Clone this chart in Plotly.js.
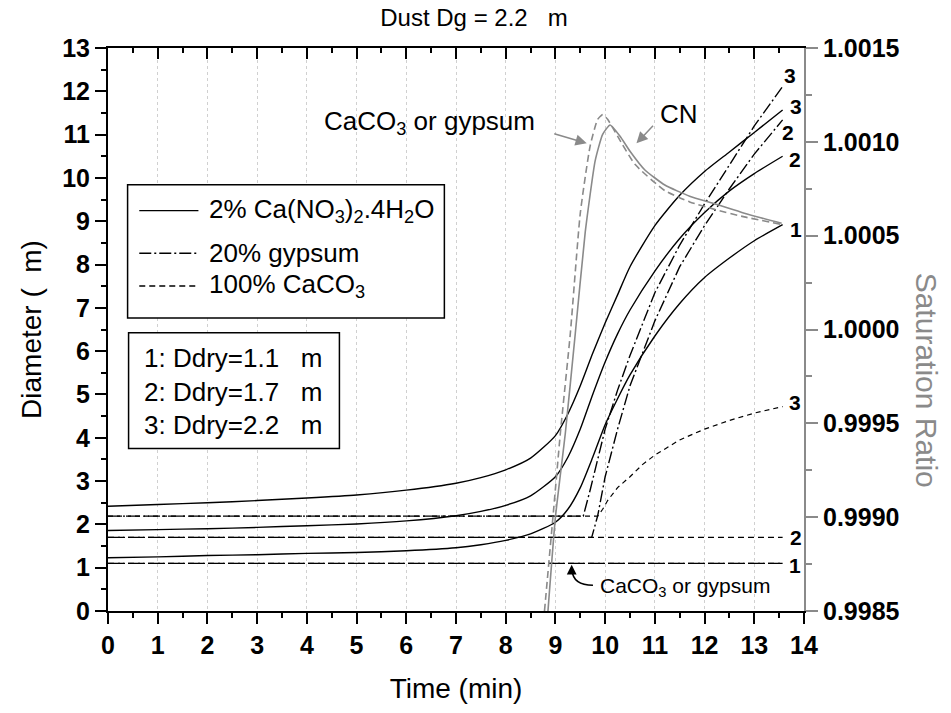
<!DOCTYPE html>
<html>
<head>
<meta charset="utf-8">
<script src="https://cdn.plot.ly/plotly-3.0.1.min.js"></script>
<style>html,body{margin:0;padding:0;background:#fff}#chart{width:951px;height:713px}</style>
</head>
<body>
<div id="chart"></div>
<script>
// ---- Data (time in min, diameter in um, saturation ratio) ----
const tGrowth = [0, 1, 2, 3, 4, 5, 6, 7, 7.5, 8, 8.5, 9, 9.25, 9.5, 9.75, 10, 10.25, 10.5, 11, 11.5, 12, 12.5, 13, 13.57];
const nitrate1 = [1.23, 1.25, 1.28, 1.30, 1.33, 1.35, 1.39, 1.46, 1.53, 1.63, 1.78, 2.05, 2.35, 2.85, 3.55, 4.3, 4.9, 5.45, 6.35, 7.1, 7.7, 8.15, 8.55, 8.92];
const nitrate2 = [1.86, 1.88, 1.90, 1.93, 1.97, 2.01, 2.08, 2.20, 2.30, 2.44, 2.66, 3.1, 3.55, 4.2, 5.0, 5.75, 6.4, 6.95, 7.85, 8.6, 9.2, 9.7, 10.1, 10.5];
const nitrate3 = [2.42, 2.46, 2.50, 2.55, 2.61, 2.68, 2.79, 2.95, 3.08, 3.26, 3.53, 4.05, 4.55, 5.2, 5.95, 6.65, 7.3, 7.95, 8.9, 9.6, 10.15, 10.6, 11.05, 11.57];

const tGyp1 = [0, 13.57];
const gypsum1 = [1.1, 1.1];
const tGyp2 = [0, 9.73, 9.85, 10, 10.25, 10.5, 11, 11.5, 12, 12.5, 13, 13.57];
const gypsum2 = [1.7, 1.7, 2.2, 3.1, 4.2, 5.2, 6.7, 7.95, 8.9, 9.75, 10.55, 11.34];
const tGyp3 = [0, 9.56, 9.7, 9.85, 10, 10.25, 10.5, 11, 11.5, 12, 12.5, 13, 13.57];
const gypsum3 = [2.19, 2.19, 2.8, 3.5, 4.2, 5.1, 5.9, 7.35, 8.45, 9.4, 10.3, 11.2, 12.11];

const tCal1 = [0, 13.57];
const calcite1 = [1.1, 1.1];
const tCal2 = [0, 13.57];
const calcite2 = [1.7, 1.7];
const tCal3 = [0, 9.85, 9.95, 10.05, 10.25, 10.5, 10.75, 11, 11.5, 12, 12.5, 13, 13.57];
const calcite3 = [2.19, 2.19, 2.35, 2.55, 2.85, 3.1, 3.38, 3.6, 3.95, 4.2, 4.4, 4.57, 4.72];

const tSatCN = [8.85, 9.0, 9.2, 9.4, 9.6, 9.8, 9.95, 10.1, 10.3, 10.5, 10.8, 11.2, 11.7, 12.2, 12.8, 13.55];
const satCN = [0.9985, 0.9990, 0.99945, 0.99998, 1.00052, 1.00090, 1.00104, 1.00109, 1.00103, 1.00095, 1.00085, 1.00077, 1.00071, 1.00067, 1.00062, 1.000566];
const tSatCaCO3 = [8.78, 8.95, 9.1, 9.3, 9.5, 9.7, 9.85, 9.95, 10.05, 10.25, 10.6, 11.2, 11.7, 12.2, 12.8, 13.55];
const satCaCO3 = [0.9985, 0.9990, 0.99945, 0.99998, 1.00062, 1.00098, 1.00112, 1.001145, 1.00112, 1.00103, 1.00088, 1.00074, 1.00068, 1.00064, 1.00060, 1.00056];

const xTicks = [0,1,2,3,4,5,6,7,8,9,10,11,12,13,14];
const legendNames = ['2% Ca(NO<sub>3</sub>)<sub>2</sub>.4H<sub>2</sub>O', '20% gypsum', '100% CaCO<sub>3</sub>'];
const sizeLabels = ['1: Ddry=1.1\u00a0\u00a0\u00a0m', '2: Ddry=1.7\u00a0\u00a0\u00a0m', '3: Ddry=2.2\u00a0\u00a0\u00a0m'];

// ---- styles ----
const FONT = 'Arial, "Liberation Sans", sans-serif';
const SOLID = 'solid';
const DASHDOT = '12px,3px,2px,3px';
const DASH = '6px,4px';
const GRAY = '#8a8a8a';

function line(x, y, dash, opts) {
  return Object.assign({
    x: x, y: y, type: 'scatter', mode: 'lines', hoverinfo: 'skip', showlegend: false,
    line: {color: '#000', width: 1.4, dash: dash}
  }, opts || {});
}

const traces = [
  line(tGrowth, nitrate1, SOLID, {line:{color:'#000',width:1.4,shape:'spline',smoothing:0.6}}),
  line(tGrowth, nitrate2, SOLID, {line:{color:'#000',width:1.4,shape:'spline',smoothing:0.6}}),
  line(tGrowth, nitrate3, SOLID, {line:{color:'#000',width:1.4,shape:'spline',smoothing:0.6}}),
  line(tCal1, calcite1, DASH),
  line(tCal2, calcite2, DASH),
  line(tCal3, calcite3, DASH, {line:{color:'#000',width:1.2,dash:'5px,4px'}}),
  line(tGyp1, gypsum1, DASHDOT),
  line(tGyp2, gypsum2, DASHDOT),
  line(tGyp3, gypsum3, DASHDOT),
  line(tSatCaCO3, satCaCO3, DASH, {yaxis:'y2', line:{color:GRAY,width:1.6,dash:'7px,4px',shape:'spline',smoothing:0.5}}),
  line(tSatCN, satCN, SOLID, {yaxis:'y2', line:{color:GRAY,width:1.6,shape:'spline',smoothing:0.5}}),
  // registers the mirrored top axis
  {x:[0], y:[0], xaxis:'x2', type:'scatter', mode:'lines', hoverinfo:'skip', showlegend:false}
];

// curve end labels, anchored to series end points
const endSeries = [
  [tGyp3, gypsum3, '3', 3, 11],
  [tGrowth, nitrate3, '3', 9, 3],
  [tGyp2, gypsum2, '2', 1, -13],
  [tGrowth, nitrate2, '2', 8, -3],
  [tGrowth, nitrate1, '1', 9, -5],
  [tCal3, calcite3, '3', 8, 4],
  [tCal2, calcite2, '2', 9, 0],
  [tCal1, calcite1, '1', 8, -2]
];
const annotations = endSeries.map(s => ({
  x: s[0][s[0].length-1], y: s[1][s[1].length-1], xref:'x', yref:'y',
  text: s[2], showarrow:false, xanchor:'center', yanchor:'middle',
  xshift: s[3] + 4, yshift: s[4],
  font:{family:FONT, size:21, weight:'bold', color:'#000'}
}));

// text annotations and arrows
annotations.push(
  {x:4.30, y:11.27, xref:'x', yref:'y', text:'CaCO<sub>3</sub> or gypsum', showarrow:false,
   xanchor:'left', yanchor:'middle', font:{family:FONT, size:26, color:'#000'}},
  {x:9.63, y:10.80, xref:'x', yref:'y', text:'', showarrow:true, ax:-34, ay:-10,
   arrowcolor:GRAY, arrowwidth:1.5, arrowhead:2, arrowsize:1.5},
  {x:11.06, y:11.48, xref:'x', yref:'y', text:'CN', showarrow:false,
   xanchor:'left', yanchor:'middle', font:{family:FONT, size:26, color:'#000'}},
  {x:10.63, y:10.80, xref:'x', yref:'y', text:'', showarrow:true, ax:18, ay:-19,
   arrowcolor:GRAY, arrowwidth:1.5, arrowhead:2, arrowsize:1.5},
  {x:9.86, y:0.555, xref:'x', yref:'y', text:'CaCO<sub>3</sub> or gypsum', showarrow:false,
   xanchor:'left', yanchor:'middle', font:{family:FONT, size:21, color:'#000'}},
  {x:9.327, y:1.07, xref:'x', yref:'y', text:'', showarrow:true, ax:0, ay:9,
   arrowcolor:'#000', arrowwidth:1.5, arrowhead:2, arrowsize:1.3},
  {x:1.176, y:0.41, xref:'paper', yref:'paper', text:'Saturation Ratio', showarrow:false,
   textangle:90, xanchor:'center', yanchor:'middle', font:{family:FONT, size:30, color:GRAY}}
);

// legend boxes (manual, to match the original sample lengths)
const legY = [9.246, 8.262, 7.506];
const legDash = [SOLID, DASHDOT, DASH];
const shapes = [
  {type:'rect', xref:'x', yref:'y', x0:0.394, x1:6.766, y0:6.766, y1:9.84, line:{color:'#000', width:1.5}, fillcolor:'#fff', layer:'above'},
  {type:'rect', xref:'x', yref:'y', x0:0.414, x1:4.655, y0:3.754, y1:6.426, line:{color:'#000', width:1.5}, fillcolor:'#fff', layer:'above'},
  {type:'path', xref:'x', yref:'y', path:'M 9.755,0.594 Q 9.353,0.594 9.333,0.95', line:{color:'#000', width:1.5}, layer:'above'}
];
legY.forEach((yy, i) => {
  shapes.push({type:'line', xref:'x', yref:'y', x0:0.629, x1:1.819, y0:yy, y1:yy,
    line:{color:'#000', width:1.4, dash:legDash[i]}, layer:'above'});
  annotations.push({x:2.0, y:yy, xref:'x', yref:'y', text:legendNames[i], showarrow:false,
    xanchor:'left', yanchor:'middle', font:{family:FONT, size:26, color:'#000'}});
});
const sizeY = [5.835, 5.062, 4.293];
sizeLabels.forEach((s, i) => {
  annotations.push({x:0.683, y:sizeY[i], xref:'x', yref:'y', text:s, showarrow:false,
    xanchor:'left', yanchor:'middle', font:{family:FONT, size:26, color:'#000'}});
});

const tickFont = {family:FONT, size:25, weight:'bold', color:'#000'};

const layout = {
  width:951, height:713,
  margin:{l:108, r:147, t:48, b:102, pad:0},
  paper_bgcolor:'#fff', plot_bgcolor:'#fff',
  showlegend:false,
  font:{family:FONT, color:'#000'},
  title:{text:'Dust Dg = 2.2\u00a0\u00a0\u00a0m', font:{family:FONT, size:24, color:'#000'},
         xref:'container', x:0.4984, xanchor:'center', yref:'container', y:0.975, yanchor:'middle'},
  xaxis:{range:[0,14], tickmode:'array', tickvals:xTicks, ticktext:xTicks.map(String),
    ticks:'outside', ticklen:11, tickwidth:2, tickcolor:'#000',
    showline:true, linewidth:2, linecolor:'#000', zeroline:false,
    showgrid:true, gridcolor:'#d0d0d0', gridwidth:1, griddash:'dot',
    minor:{dtick:0.5, tick0:0, ticks:'outside', ticklen:5, tickwidth:2, tickcolor:'#000', showgrid:false},
    tickfont:tickFont, automargin:false,
    title:{text:'Time (min)', font:{family:FONT, size:28, color:'#000'}, standoff:20}},
  xaxis2:{range:[0,14], overlaying:'x', side:'top', dtick:1, tick0:0,
    ticks:'inside', ticklen:11, tickwidth:2, tickcolor:'#000', showticklabels:false,
    showline:true, linewidth:2, linecolor:'#000', zeroline:false, showgrid:false,
    minor:{dtick:0.5, tick0:0, ticks:'inside', ticklen:5, tickwidth:2, tickcolor:'#000'}},
  yaxis:{range:[0,13], dtick:1, tick0:0,
    ticks:'outside', ticklen:11, tickwidth:2, tickcolor:'#000',
    showline:true, linewidth:2, linecolor:'#000', zeroline:false, showgrid:false,
    minor:{dtick:0.5, tick0:0, ticks:'outside', ticklen:5, tickwidth:2, tickcolor:'#000', showgrid:false},
    tickfont:tickFont, automargin:false,
    title:{text:'Diameter (\u00a0\u00a0m)', font:{family:FONT, size:28, color:'#000'}, standoff:12}},
  yaxis2:{range:[0.9985,1.0015], overlaying:'y', side:'right', dtick:0.0005, tick0:0.9985, tickformat:'.4f',
    ticks:'outside', ticklen:12, tickwidth:2, tickcolor:GRAY,
    showline:true, linewidth:2, linecolor:GRAY, zeroline:false, showgrid:false,
    minor:{dtick:0.00025, tick0:0.9985, ticks:'outside', ticklen:6, tickwidth:2, tickcolor:GRAY},
    tickfont:tickFont, automargin:false},
  shapes:shapes,
  annotations:annotations
};

Plotly.newPlot('chart', traces, layout, {staticPlot:true, displayModeBar:false});
</script>
</body>
</html>
